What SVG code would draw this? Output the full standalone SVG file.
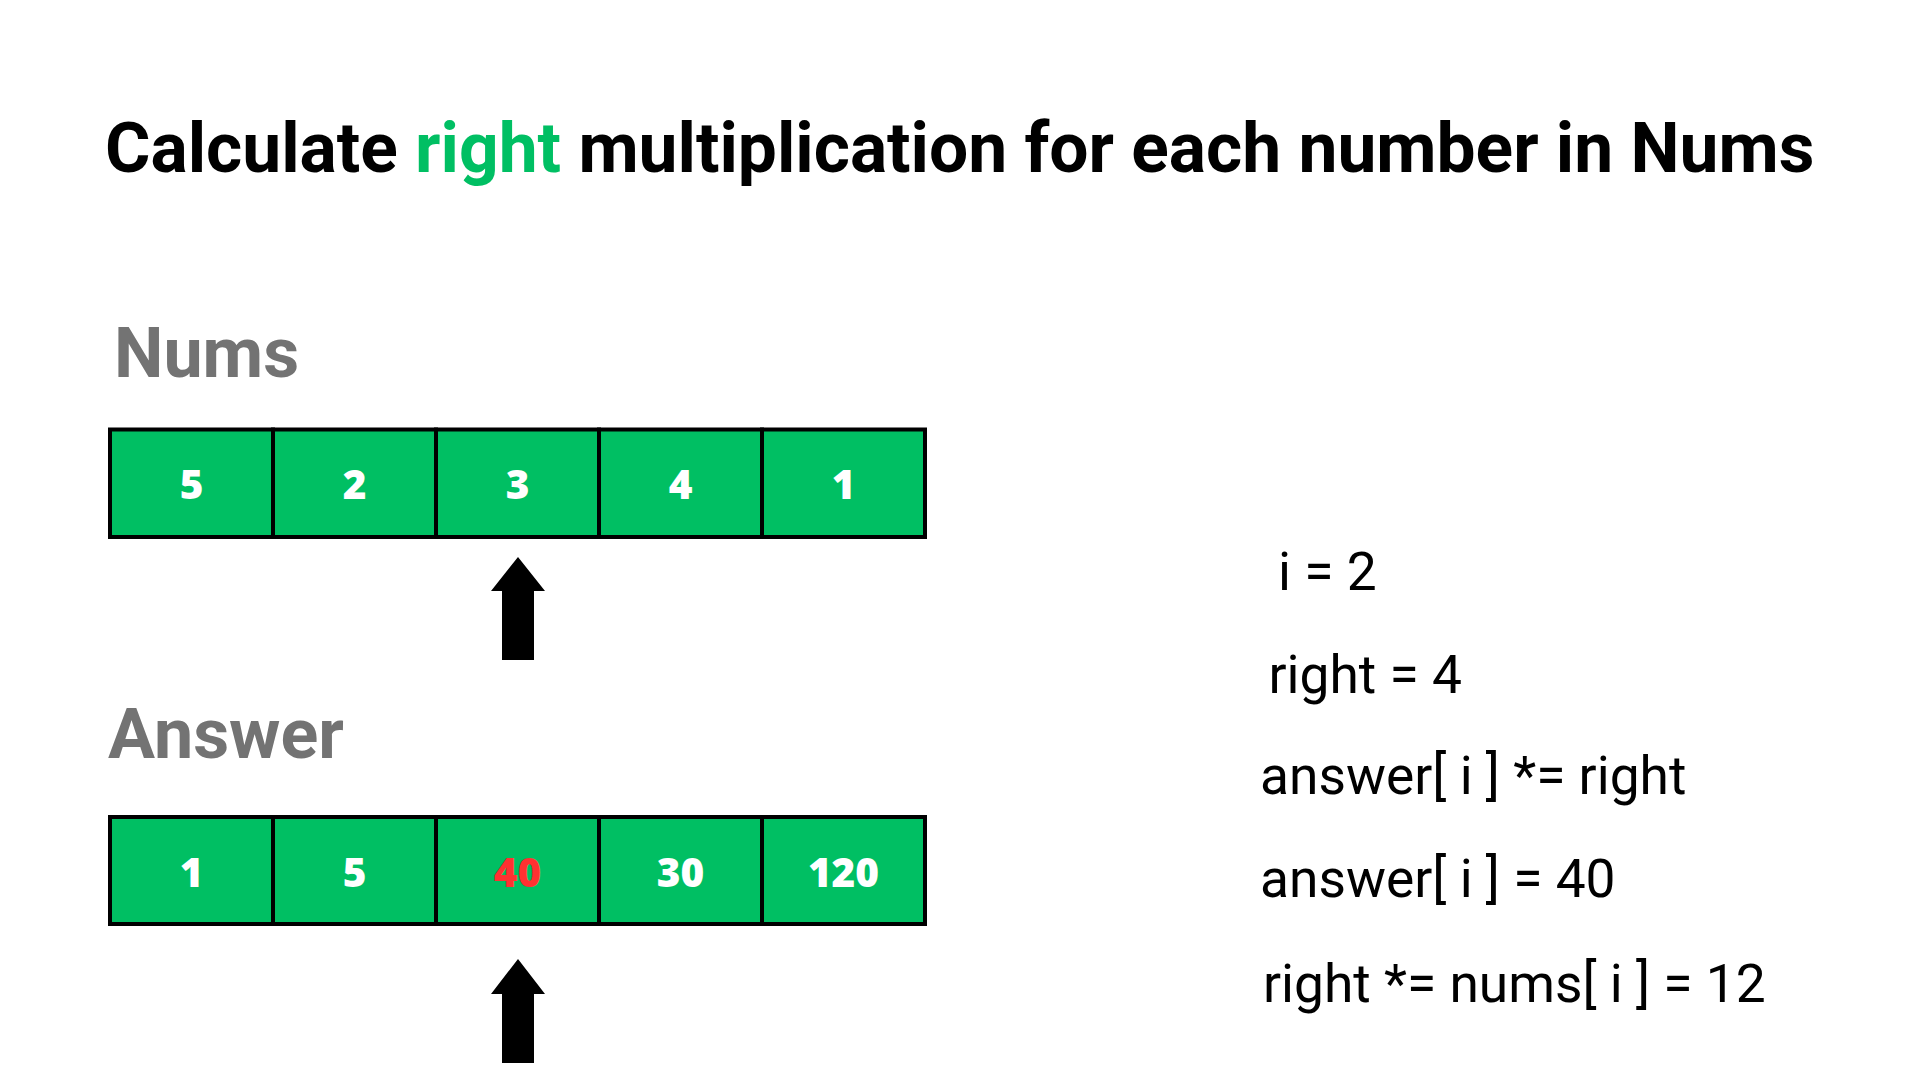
<svg xmlns="http://www.w3.org/2000/svg" width="1920" height="1080" viewBox="0 0 1920 1080">
<style>
.title{font-family:Roboto,"Liberation Sans",sans-serif;font-weight:700;font-size:69.5px;fill:#000}
.label{font-family:Roboto,"Liberation Sans",sans-serif;font-weight:700;font-size:70px;fill:#737373}
.cell{fill:#00BF63;stroke:#000;stroke-width:4}
.num{font-family:"Open Sans","Liberation Sans",sans-serif;font-weight:800;font-size:40.5px;fill:#fff;text-anchor:middle}
.red{fill:#FF3131}
.code{font-family:Roboto,"Liberation Sans",sans-serif;font-weight:400;font-size:53.3px;fill:#000}
.arrow{fill:#000}
</style>
<rect width="1920" height="1080" fill="#fff"/>
<g id="title"><text class="title" x="105" y="172">Calculate <tspan fill="#00BF63">right</tspan> multiplication for each number in Nums</text></g>
<g id="nums-label"><text class="label" x="114" y="377">Nums</text></g>
<g id="nums">
<rect class="cell" x="110" y="429.5" width="163" height="107.5"/>
<rect class="cell" x="273" y="429.5" width="163" height="107.5"/>
<rect class="cell" x="436" y="429.5" width="163" height="107.5"/>
<rect class="cell" x="599" y="429.5" width="163" height="107.5"/>
<rect class="cell" x="762" y="429.5" width="163" height="107.5"/>
<text class="num" x="191.5" y="499.3">5</text>
<text class="num" x="354.5" y="499.3">2</text>
<text class="num" x="517.5" y="499.3">3</text>
<text class="num" x="680.5" y="499.3">4</text>
<text class="num" x="843.5" y="499.3">1</text>
</g>
<g id="answer-label"><text class="label" x="108" y="758">Answer</text></g>
<g id="answer">
<rect class="cell" x="110" y="817" width="163" height="107"/>
<rect class="cell" x="273" y="817" width="163" height="107"/>
<rect class="cell" x="436" y="817" width="163" height="107"/>
<rect class="cell" x="599" y="817" width="163" height="107"/>
<rect class="cell" x="762" y="817" width="163" height="107"/>
<text class="num" x="191.5" y="886.5">1</text>
<text class="num" x="354.5" y="886.5">5</text>
<text class="num red" x="517.5" y="886.5">40</text>
<text class="num" x="680.5" y="886.5">30</text>
<text class="num" x="843.5" y="886.5">120</text>
</g>
<g id="connectors">
<polygon class="arrow" points="518,557 545,591 534,591 534,660 502,660 502,591 491,591"/>
<polygon class="arrow" points="518,959 545,994 534,994 534,1063 502,1063 502,994 491,994"/>
</g>
<g id="code">
<text class="code" x="1278" y="589.5">i = 2</text>
<text class="code" x="1268.5" y="692.7">right = 4</text>
<text class="code" x="1260" y="794">answer[ i ] *= right</text>
<text class="code" x="1260" y="896.7">answer[ i ] = 40</text>
<text class="code" x="1263" y="1001.7">right *= nums[ i ] = 12</text>
</g>
</svg>
